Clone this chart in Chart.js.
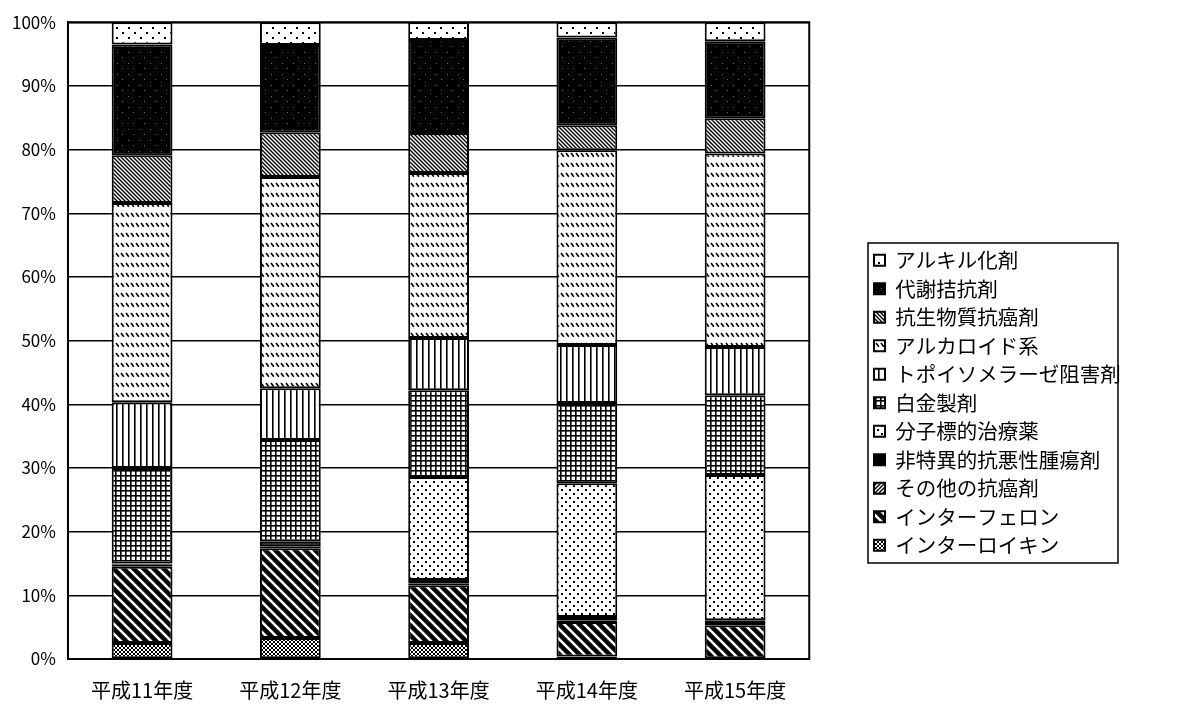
<!DOCTYPE html>
<html lang="ja">
<head>
<meta charset="utf-8">
<title>抗癌剤 種類別構成比</title>
<script src="https://cdn.jsdelivr.net/npm/chart.js@4.4.1/dist/chart.umd.min.js"></script>
<style>
  html, body { margin: 0; padding: 0; background: #fff; }
  #wrap { width: 1181px; height: 704px; }
</style>
</head>
<body>
<div id="wrap"><canvas id="c" width="1181" height="704"></canvas></div>
<script>
// Fiscal years (categories)
const years = ['平成11年度', '平成12年度', '平成13年度', '平成14年度', '平成15年度'];

// Y-axis tick labels
const yTickLabels = ['0%', '10%', '20%', '30%', '40%', '50%', '60%', '70%', '80%', '90%', '100%'];

// Share of each drug class per year (%), stacked bottom to top
const interleukin     = [2.5, 3.3, 2.5, 0.4, 0.0];
const interferon      = [12.0, 14.1, 9.1, 5.4, 5.3];
const otherAnticancer = [0.3, 0.3, 0.2, 0.2, 0.2];
const nonspecific     = [0.2, 0.8, 0.6, 0.6, 0.6];
const molecularTarget = [0.0, 0.0, 16.2, 21.0, 22.8];
const platinum        = [15.0, 15.9, 13.6, 12.6, 12.5];
const topoisomerase   = [10.3, 8.1, 8.2, 9.1, 7.6];
const alkaloid        = [31.3, 33.2, 25.9, 30.6, 30.4];
const antibiotic      = [7.5, 7.0, 6.3, 3.9, 5.5];
const antimetabolite  = [17.4, 13.7, 14.6, 13.8, 12.1];
const alkylating      = [3.5, 3.6, 2.8, 2.4, 3.0];

// ---- monochrome fill patterns ----
const ctxMain = document.getElementById('c').getContext('2d');
function pattern(w, h, paint) {
  const cv = document.createElement('canvas');
  cv.width = w; cv.height = h;
  paint(cv.getContext('2d'), w, h);
  return ctxMain.createPattern(cv, 'repeat');
}
function bg(g, w, h, c) { g.fillStyle = c; g.fillRect(0, 0, w, h); }

const fills = {
  // sparse small dots
  alkylating: pattern(12, 10, (g, w, h) => {
    bg(g, w, h, '#fff'); g.fillStyle = '#000';
    g.fillRect(2, 2, 2, 2); g.fillRect(8, 7, 2, 2);
  }),
  // black with faint speckles
  antimetabolite: pattern(11, 11, (g, w, h) => {
    bg(g, w, h, '#000'); g.fillStyle = '#666';
    g.fillRect(1, 2, 1, 1); g.fillRect(7, 8, 1, 1);
  }),
  // dense fine backslash hatch
  antibiotic: pattern(4, 4, (g, w, h) => {
    bg(g, w, h, '#fff'); g.strokeStyle = '#000'; g.lineWidth = 1.4;
    g.beginPath();
    g.moveTo(-1, -1); g.lineTo(5, 5);
    g.moveTo(-1, 3); g.lineTo(1, 5);
    g.moveTo(3, -1); g.lineTo(5, 1);
    g.stroke();
  }),
  // rows of short slanted dashes
  alkaloid: pattern(5, 10, (g, w, h) => {
    bg(g, w, h, '#fff'); g.strokeStyle = '#000'; g.lineWidth = 1.6;
    g.beginPath(); g.moveTo(1, 3); g.lineTo(3.8, 6.8); g.stroke();
  }),
  // vertical lines
  topoisomerase: pattern(6, 6, (g, w, h) => {
    bg(g, w, h, '#fff'); g.fillStyle = '#000';
    g.fillRect(2, 0, 1.6, h);
  }),
  // dense grid
  platinum: pattern(5, 5, (g, w, h) => {
    bg(g, w, h, '#fff'); g.fillStyle = '#000';
    g.fillRect(0, 0, w, 1.6); g.fillRect(0, 0, 1.6, h);
  }),
  // medium dots
  molecularTarget: pattern(8, 8, (g, w, h) => {
    bg(g, w, h, '#fff'); g.fillStyle = '#000';
    g.fillRect(1, 1, 2, 2); g.fillRect(5, 5, 2, 2);
  }),
  nonspecific: '#000',
  // forward-slash hatch
  otherAnticancer: pattern(4, 4, (g, w, h) => {
    bg(g, w, h, '#fff'); g.strokeStyle = '#000'; g.lineWidth = 1.4;
    g.beginPath();
    g.moveTo(-1, 5); g.lineTo(5, -1);
    g.moveTo(-1, 1); g.lineTo(1, -1);
    g.moveTo(3, 5); g.lineTo(5, 3);
    g.stroke();
  }),
  // black with wide white diagonal stripes
  interferon: pattern(10, 10, (g, w, h) => {
    bg(g, w, h, '#000'); g.strokeStyle = '#fff'; g.lineWidth = 2.6;
    g.beginPath();
    g.moveTo(-2, -2); g.lineTo(12, 12);
    g.moveTo(-2, 8); g.lineTo(2, 12);
    g.moveTo(8, -2); g.lineTo(12, 2);
    g.stroke();
  }),
  // fine crosshatch
  interleukin: pattern(4, 4, (g, w, h) => {
    bg(g, w, h, '#fff'); g.strokeStyle = '#000'; g.lineWidth = 1;
    g.beginPath();
    g.moveTo(-1, -1); g.lineTo(5, 5);
    g.moveTo(-1, 5); g.lineTo(5, -1);
    g.stroke();
  })
};

function series(label, data, fill) {
  return {
    label, data,
    backgroundColor: fill,
    borderColor: '#000',
    borderWidth: 2,
    borderSkipped: false,
    barPercentage: 0.82,
    categoryPercentage: 0.5
  };
}

const datasets = [
  series('インターロイキン', interleukin, fills.interleukin),
  series('インターフェロン', interferon, fills.interferon),
  series('その他の抗癌剤', otherAnticancer, fills.otherAnticancer),
  series('非特異的抗悪性腫瘍剤', nonspecific, fills.nonspecific),
  series('分子標的治療薬', molecularTarget, fills.molecularTarget),
  series('白金製剤', platinum, fills.platinum),
  series('トポイソメラーゼ阻害剤', topoisomerase, fills.topoisomerase),
  series('アルカロイド系', alkaloid, fills.alkaloid),
  series('抗生物質抗癌剤', antibiotic, fills.antibiotic),
  series('代謝拮抗剤', antimetabolite, fills.antimetabolite),
  series('アルキル化剤', alkylating, fills.alkylating)
];

// Frame around the plot area
const plotFrame = {
  id: 'plotFrame',
  beforeDatasetsDraw(chart) {
    const { ctx, chartArea: a } = chart;
    ctx.save();
    ctx.strokeStyle = '#000';
    ctx.lineWidth = 2;
    ctx.strokeRect(a.left, a.top, a.right - a.left, a.bottom - a.top);
    ctx.restore();
  }
};

// Place the legend in its own bordered box to the right of the plot
const legendBox = {
  id: 'legendBox',
  afterLayout(chart) {
    const lg = chart.legend;
    lg.left = 866; lg.right = 866 + 310;
    lg.top = 242; lg.bottom = 242 + 440;
  },
  afterDraw(chart) {
    const { ctx } = chart;
    const lg = chart.legend;
    ctx.save();
    ctx.strokeStyle = '#000';
    ctx.lineWidth = 1.5;
    ctx.strokeRect(lg.left + 2, lg.top + 1, 250, 320);
    ctx.restore();
  }
};

Chart.defaults.font.family = "'Noto Sans CJK JP', 'Noto Sans', sans-serif";
Chart.defaults.color = '#000';

new Chart(ctxMain, {
  type: 'bar',
  data: { labels: years, datasets },
  plugins: [plotFrame, legendBox],
  options: {
    responsive: false,
    animation: false,
    layout: { padding: { left: 0, top: 14, right: 107, bottom: -17 } },
    scales: {
      x: {
        stacked: true,
        grid: { display: false, drawTicks: false },
        border: { color: '#000', width: 2 },
        ticks: { font: { size: 20 }, padding: 19, color: '#000' }
      },
      y: {
        stacked: true,
        min: 0, max: 100,
        ticks: {
          stepSize: 10,
          padding: 12,
          font: { size: 17 },
          color: '#000',
          callback: (v, i) => yTickLabels[i]
        },
        grid: { color: '#000', lineWidth: 1.4, drawTicks: false },
        border: { color: '#000', width: 2 }
      }
    },
    plugins: {
      legend: {
        position: 'right',
        align: 'start',
        reverse: true,
        labels: {
          boxWidth: 11,
          boxHeight: 11,
          padding: 8,
          font: { size: 20.5 },
          color: '#000'
        }
      },
      tooltip: { enabled: false }
    }
  }
});
</script>
</body>
</html>
